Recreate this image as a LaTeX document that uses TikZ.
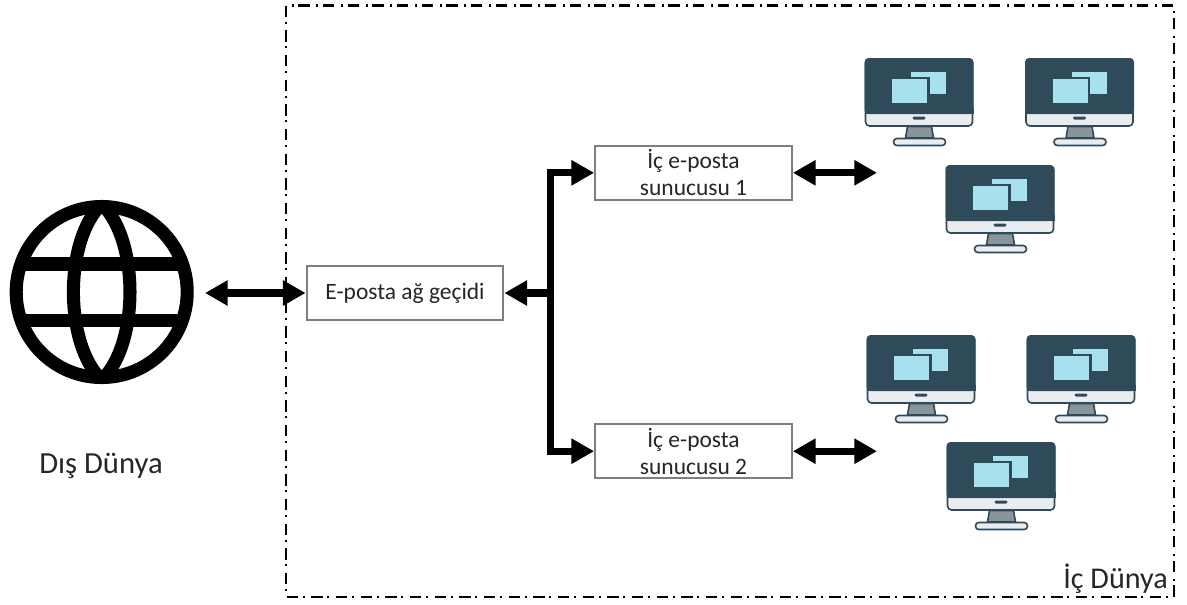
\documentclass[tikz,border=0pt]{standalone}
\usepackage{fontspec}
\setmainfont{Carlito}
\usetikzlibrary{arrows.meta}
\definecolor{mondark}{HTML}{2F4B5A}
\definecolor{monwin}{HTML}{A8E1EE}
\definecolor{monbez}{HTML}{E9EDEF}
\definecolor{monstand}{HTML}{89959A}
\definecolor{boxgrey}{HTML}{7F7F7F}
\definecolor{txt}{HTML}{262626}
\tikzset{
  x=0.75pt,y=-0.75pt,
  mailbox/.style={draw=boxgrey,line width=1.6pt,fill=white,minimum width=147.5pt,minimum height=40.5pt,inner sep=0pt,align=center,font=\fontsize{17.6}{20.5}\selectfont,text=txt},
  biglabel/.style={font=\fontsize{23}{26}\selectfont,text=txt,inner sep=0pt},
  blockline/.style={line width=5.4pt,draw=black},
  biarrow/.style={blockline,{Triangle[length=17pt,width=18pt]}-{Triangle[length=17pt,width=18pt]}},
  oneend/.style={blockline,-{Triangle[length=17pt,width=18pt]}},
  globeline/.style={line width=9.8pt,draw=black},
  monitor/.pic={
    \draw[mondark,line width=1.2pt,fill=monbez,rounded corners=3pt] (1,1) rectangle (108,68);
    \fill[mondark,rounded corners=3pt] (0,0) -- (109,0) -- (109,56) -- (0,56) -- cycle;
    \fill[mondark] (0,50) rectangle (109,56);
    \fill[mondark,rounded corners=1pt] (48,58.5) rectangle (61,61.5);
    \draw[mondark,line width=1.2pt,fill=monstand] (43,68.5) -- (67,68.5) -- (69,80) -- (41,80) -- cycle;
    \draw[mondark,line width=1.2pt,fill=monbez,rounded corners=2.5pt] (29,80.5) rectangle (81,87.5);
    \fill[monwin] (46.5,13.5) rectangle (81.5,36);
    \fill[mondark] (25,18.5) rectangle (65,48);
    \fill[monwin] (27.5,21) rectangle (62.5,45);
  }
}
\begin{document}
\begin{tikzpicture}
\useasboundingbox (0,0) rectangle (1187,604);
\fill[white] (0,0) rectangle (1187,604);

% inner-world frame
\draw[black,line width=1.6pt,dash pattern=on 8.5pt off 3.5pt on 1.5pt off 5pt] (286,5.5) rectangle (1174,597);

% globe
\begin{scope}
\clip (101.7,292) circle [radius=90];
\draw[globeline] (10,264) -- (194,264);
\draw[globeline] (10,320.5) -- (194,320.5);
\draw[globeline,line join=bevel] (101.7,204) .. controls (64,240) and (64,344) .. (101.7,380) .. controls (139.4,344) and (139.4,240) .. (101.7,204) -- cycle;
\end{scope}
\draw[globeline] (101.7,292) circle [radius=85.5];

% monitors
\pic at (864.5,58) {monitor};
\pic at (1025,58) {monitor};
\pic at (945.5,165) {monitor};
\pic at (866.5,335) {monitor};
\pic at (1026.5,335) {monitor};
\pic at (946.5,442) {monitor};

% boxes
\node[mailbox] (gw) at (405,293) {E-posta ağ geçidi};
\node[mailbox] (in1) at (693.5,172.8) {İç e-posta\\sunucusu 1};
\node[mailbox] (in2) at (693.5,451.2) {İç e-posta\\sunucusu 2};

% free ends
\coordinate (globeport) at (205,293);
\coordinate (junction) at (550.5,293);
\coordinate (junctionend) at (554,293);
\coordinate (group1) at (877,172.8);
\coordinate (group2) at (877,451.2);

% connectors
\draw[biarrow] (globeport) -- (gw.west);
\draw[oneend] (junctionend) -- (gw.east);
\draw[oneend,line join=miter] (junction) |- (in1.west);
\draw[oneend,line join=miter] (junction) |- (in2.west);
\draw[biarrow] (in1.east) -- (group1);
\draw[biarrow] (in2.east) -- (group2);

% labels
\node[biglabel] (outer) at (101,466) {Dış Dünya};
\node[biglabel,anchor=east,font=\fontsize{22.6}{26}\selectfont] (inner) at (1168,579) {İç Dünya};
\end{tikzpicture}
\end{document}
